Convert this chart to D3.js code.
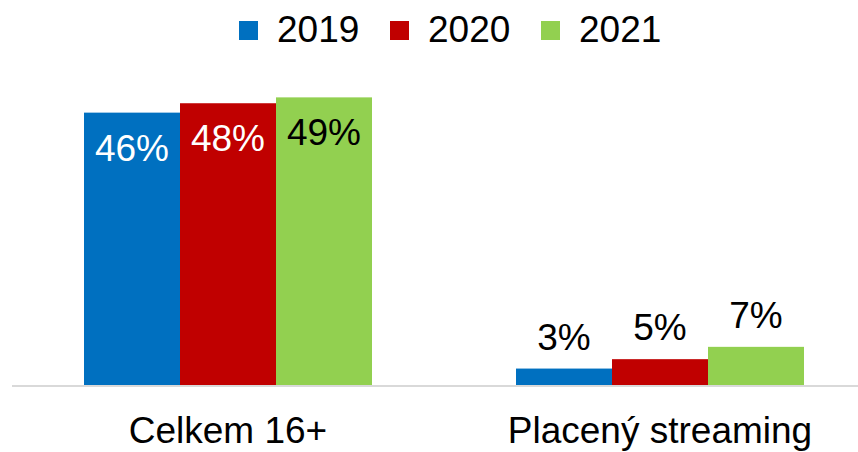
<!DOCTYPE html>
<html>
<head>
<meta charset="utf-8">
<script src="https://cdn.jsdelivr.net/npm/d3@7"></script>
<style>
  body { margin: 0; background: #fff; }
  text { font-family: "Liberation Sans", Arial, sans-serif; }
</style>
</head>
<body>
<div id="chart"></div>
<script>
var categories = ["Celkem 16+", "Placený streaming"];
var years = ["2019", "2020", "2021"];
var colors = ["#0070c0", "#c00000", "#92d050"];
// bar heights, labels as printed
var values2019 = [46.4, 2.8];
var values2020 = [48.0, 4.4];
var values2021 = [49.0, 6.5];
var labels2019 = ["46%", "3%"];
var labels2020 = ["48%", "5%"];
var labels2021 = ["49%", "7%"];

var width = 858, height = 452;
var baseY = 385;
var fs = 37;

var series = [
  {year: years[0], color: colors[0], values: values2019, labels: labels2019, text: "#fff"},
  {year: years[1], color: colors[1], values: values2020, labels: labels2020, text: "#fff"},
  {year: years[2], color: colors[2], values: values2021, labels: labels2021, text: "#000"}
];

var svg = d3.select("#chart").append("svg")
    .attr("width", width)
    .attr("height", height);

var x0 = d3.scaleBand()
    .domain(categories)
    .range([12, 876])
    .paddingInner(1 / 3)
    .paddingOuter(1 / 6);

var x1 = d3.scaleBand()
    .domain(years)
    .range([0, x0.bandwidth()]);

var y = d3.scaleLinear()
    .domain([0, 60])
    .range([baseY, baseY - 60 * 5.87]);

// axis baseline
svg.append("line")
    .attr("x1", 12).attr("x2", width)
    .attr("y1", baseY + 1).attr("y2", baseY + 1)
    .attr("stroke", "#d9d9d9")
    .attr("stroke-width", 2);

var cells = [];
series.forEach(function(s) {
  categories.forEach(function(c, i) {
    cells.push({cat: c, year: s.year, color: s.color, value: s.values[i], label: s.labels[i], text: s.text});
  });
});

svg.selectAll("rect.bar")
    .data(cells)
    .enter().append("rect")
    .attr("class", "bar")
    .attr("x", function(d) { return x0(d.cat) + x1(d.year); })
    .attr("width", x1.bandwidth())
    .attr("y", function(d) { return y(d.value); })
    .attr("height", function(d) { return baseY - y(d.value); })
    .attr("fill", function(d) { return d.color; });

svg.selectAll("text.val")
    .data(cells)
    .enter().append("text")
    .attr("class", "val")
    .attr("x", function(d) { return x0(d.cat) + x1(d.year) + x1.bandwidth() / 2; })
    .attr("y", function(d) { return d.value > 20 ? y(d.value) + 48 : y(d.value) - 19; })
    .attr("text-anchor", "middle")
    .attr("font-size", fs)
    .attr("fill", function(d) { return d.value > 20 ? d.text : "#000"; })
    .text(function(d) { return d.label; });

// category labels
svg.selectAll("text.cat")
    .data(categories)
    .enter().append("text")
    .attr("class", "cat")
    .attr("x", function(d) { return x0(d) + x0.bandwidth() / 2; })
    .attr("y", 443)
    .attr("text-anchor", "middle")
    .attr("font-size", fs)
    .attr("fill", "#000")
    .text(function(d) { return d; });

// legend
var legend = svg.selectAll("g.legend")
    .data(series)
    .enter().append("g")
    .attr("class", "legend")
    .attr("transform", function(d, i) { return "translate(" + (239 + i * 151) + ",0)"; });

legend.append("rect")
    .attr("x", 0).attr("y", 21)
    .attr("width", 19).attr("height", 19)
    .attr("fill", function(d) { return d.color; });

legend.append("text")
    .attr("x", 38).attr("y", 42)
    .attr("font-size", fs)
    .attr("fill", "#000")
    .text(function(d) { return d.year; });
</script>
</body>
</html>
